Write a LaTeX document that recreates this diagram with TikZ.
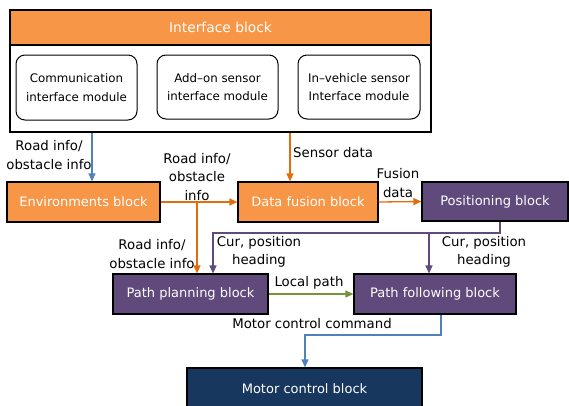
\documentclass[tikz,border=0pt]{standalone}
\usepackage{fontspec}
\setmainfont{DejaVu Sans}
\usetikzlibrary{arrows.meta}
\definecolor{org}{HTML}{F79646}
\definecolor{orgline}{HTML}{E46C0A}
\definecolor{pur}{HTML}{604A7B}
\definecolor{navy}{HTML}{17375E}
\definecolor{blu}{HTML}{4F81BD}
\definecolor{grn}{HTML}{77933C}
\tikzset{
  blk/.style={draw=black, line width=1.2pt, inner sep=0pt, font=\fontsize{13}{15}\selectfont},
  modbox/.style={draw=black, line width=1pt, rounded corners=9pt, inner sep=0pt, align=center, font=\fontsize{11.8}{18.5}\selectfont},
  conn/.style={line width=1.3pt, -{Triangle[length=8pt,width=7pt]}},
  lbl/.style={inner sep=0pt, align=center, font=\fontsize{13.3}{18.5}\selectfont}
}
\begin{document}
\begin{tikzpicture}[x=1pt,y=-1pt]
\useasboundingbox (0,0) rectangle (569,405);
\clip (0,0) rectangle (569,405);
% interface block
\node[blk, minimum width=421pt, minimum height=122pt] (ifc) at (220.5,71) {};
\node[blk, fill=org, text=white, minimum width=421pt, minimum height=35pt, font=\fontsize{13.8}{16}\selectfont] (ifh) at (220.5,27.5) {Interface block};
\node[modbox, minimum width=121pt, minimum height=65pt] (m1) at (76.5,87.5) {Communication\\interface module};
\node[modbox, minimum width=121pt, minimum height=64pt] (m2) at (217.5,87) {Add–on sensor\\interface module};
\node[modbox, minimum width=122pt, minimum height=64pt] (m3) at (359,87) {In–vehicle sensor\\Interface module};
% blocks
\node[blk, fill=org, text=white, minimum width=153pt, minimum height=40pt] (env) at (83.5,202) {Environments block};
\node[blk, fill=org, text=white, minimum width=140pt, minimum height=40pt] (fus) at (308,202) {Data fusion block};
\node[blk, fill=pur, text=white, minimum width=146pt, minimum height=39pt] (pos) at (495,201.5) {Positioning block};
\node[blk, fill=pur, text=white, minimum width=155pt, minimum height=40pt] (plan) at (190.5,294) {Path planning block};
\node[blk, fill=pur, text=white, minimum width=162pt, minimum height=40pt] (foll) at (435,294) {Path following block};
\node[blk, fill=navy, text=white, minimum width=235pt, minimum height=44pt] (motor) at (304.5,390) {};
\node[lbl, text=white, font=\fontsize{13}{15}\selectfont] (motort) at (304.5,389) {Motor control block};
% connectors
\draw[conn, blu] (92,0 |- ifc.south) -- (92,0 |- env.north);
\draw[conn, orgline] (290,0 |- ifc.south) -- (290,0 |- fus.north);
\draw[conn, orgline] (env.east) -- (fus.west);
\coordinate (j1) at (197,0 |- env.east);
\draw[conn, orgline] (j1) -- (j1 |- plan.north);
\draw[conn, orgline] (fus.east) -- (pos.west);
\coordinate (p1) at (500,233);
\coordinate (p2) at (213,233);
\coordinate (p3) at (429,233);
\draw[conn, pur] (p1 |- pos.south) -- (p1) -- (p2) -- (p2 |- plan.north);
\draw[conn, pur] (p3) -- (p3 |- foll.north);
\draw[conn, grn] (plan.east) -- (foll.west);
\coordinate (b1) at (441,335);
\coordinate (b2) at (305,335);
\draw[conn, blu] (b1 |- foll.south) -- (b1) -- (b2) -- (b2 |- motor.north);
% labels
\node[lbl] (l1) at (49,155) {Road info/\\obstacle info};
\node[lbl, anchor=west] (l2) at (293,153) {Sensor data};
\node[lbl] (l3) at (197,177) {Road info/\\obstacle\\info};
\node[lbl] (l4) at (398,183) {Fusion\\data};
\node[lbl] (l5) at (152,254) {Road info/\\obstacle info};
\node[lbl] (l6) at (259,252) {Cur, position\\heading};
\node[lbl] (l7) at (484,252) {Cur, position\\heading};
\node[lbl] (l8) at (309,283) {Local path};
\node[lbl] (l9) at (312,324) {Motor control command};
\end{tikzpicture}
\end{document}
